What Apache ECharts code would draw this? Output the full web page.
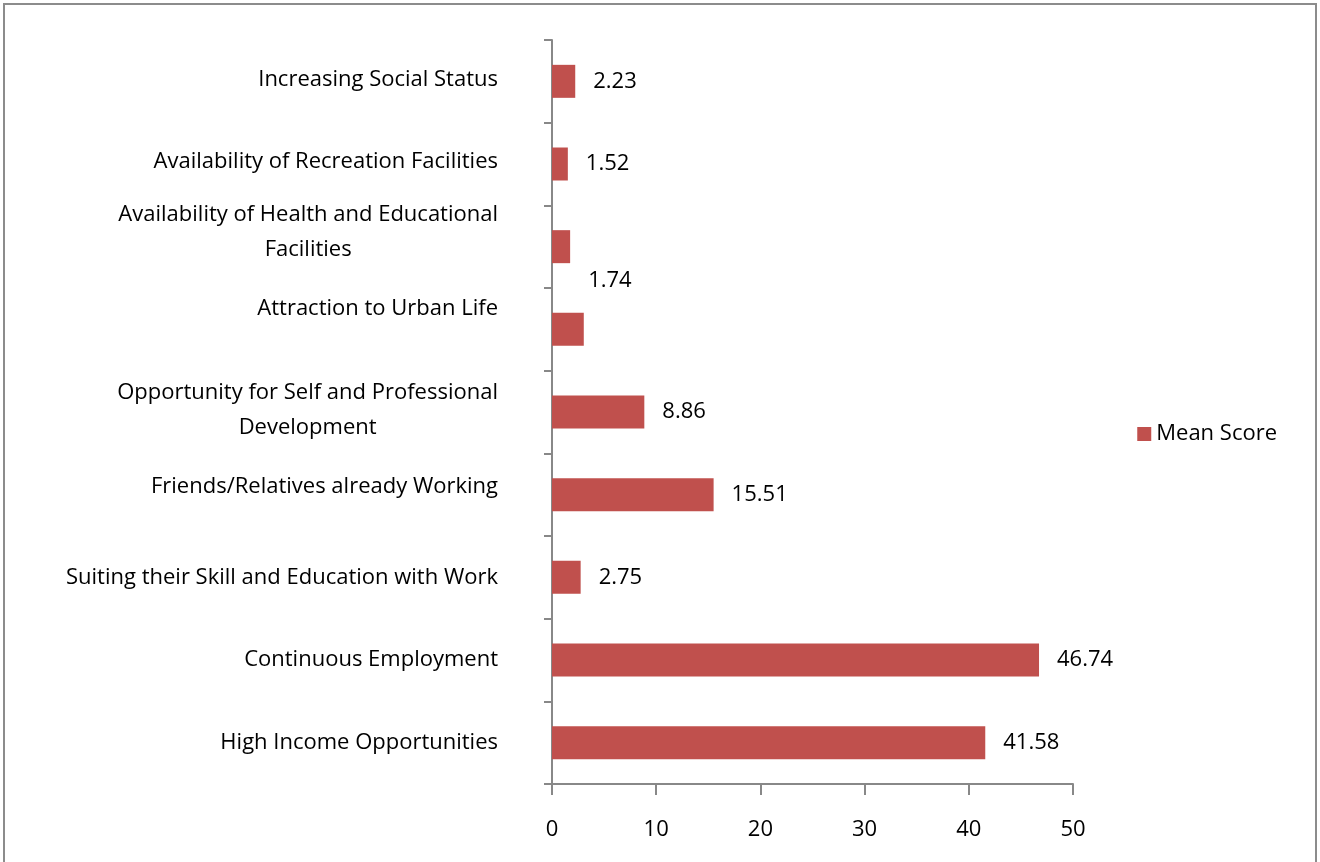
<!DOCTYPE html>
<html><head><meta charset="utf-8">
<script src="https://cdn.jsdelivr.net/npm/echarts@6/dist/echarts.min.js"></script>
<style>
html,body{margin:0;padding:0;background:#fff;}
#c{width:1320px;height:862px;}
</style></head>
<body><div id="c"></div>
<script>
const categories = [
  "High Income Opportunities",
  "Continuous Employment",
  "Suiting their Skill and Education with Work",
  "Friends/Relatives already Working",
  "Opportunity for Self and Professional\nDevelopment",
  "Attraction to Urban Life",
  "Availability of Health and Educational\nFacilities",
  "Availability of Recreation Facilities",
  "Increasing Social Status"
];
const meanScore = [41.58, 46.74, 2.75, 15.51, 8.86, 3.05, 1.74, 1.52, 2.23];
const showLabel = [true, true, true, true, true, false, true, true, true];
const labelShiftY = [0, 0, 0, 0, 0, 0, 34, 0, 0];
const labelPadBottom = [0, 0, 0, 16, 4, 42, 28, 4, 4];
const xTicks = [0, 10, 20, 30, 40, 50];

const FONT = '"Open Sans"';
const FS = 22;
const chart = echarts.init(document.getElementById('c'));
chart.setOption({
  animation: false,
  backgroundColor: '#fff',
  textStyle: {fontFamily: FONT},
  graphic: [{
    type: 'rect', silent: true,
    shape: {x: 4, y: 4, width: 1312, height: 870},
    style: {fill: 'none', stroke: '#8c8c8c', lineWidth: 2}
  }],
  legend: {
    data: ['Mean Score'],
    right: 38, top: 418,
    itemWidth: 14, itemHeight: 14, itemGap: 6,
    icon: 'rect',
    textStyle: {fontSize: FS, color: '#000', fontFamily: FONT}
  },
  grid: {left: 552, right: 247, top: 40, bottom: 78, containLabel: false},
  xAxis: {
    type: 'value', min: 0, max: 50, interval: 10,
    axisLine: {show: true, lineStyle: {color: '#888', width: 2}},
    axisTick: {show: true, length: 11, lineStyle: {color: '#888', width: 2}},
    splitLine: {show: false},
    axisLabel: {
      margin: 35, fontSize: FS, color: '#000', fontFamily: FONT,
      formatter: v => xTicks.includes(v) ? String(v) : ''
    }
  },
  yAxis: {
    type: 'category',
    data: categories.map((c, i) => ({
      value: c,
      textStyle: {padding: [0, 0, labelPadBottom[i], 0]}
    })),
    axisLine: {show: true, lineStyle: {color: '#888', width: 2}},
    axisTick: {show: true, length: 8, alignWithLabel: false, lineStyle: {color: '#888', width: 2}},
    axisLabel: {
      margin: 54, fontSize: FS, color: '#000', fontFamily: FONT, lineHeight: 35,
      align: 'right',
      formatter: v => v.split('\n').map(s => '{c|' + s + '}').join('\n'),
      rich: {c: {align: 'center', fontSize: FS, color: '#000', fontFamily: FONT, lineHeight: 35}}
    }
  },
  series: [{
    name: 'Mean Score',
    type: 'bar',
    barWidth: 33,
    itemStyle: {color: '#C0504D'},
    data: meanScore.map((v, i) => ({
      value: v,
      label: {
        show: showLabel[i],
        offset: [0, labelShiftY[i]]
      }
    })),
    label: {
      show: true, position: 'right', distance: 18,
      fontSize: FS, color: '#000', fontFamily: FONT,
      formatter: p => p.value.toFixed(2)
    }
  }]
});
</script></body></html>
